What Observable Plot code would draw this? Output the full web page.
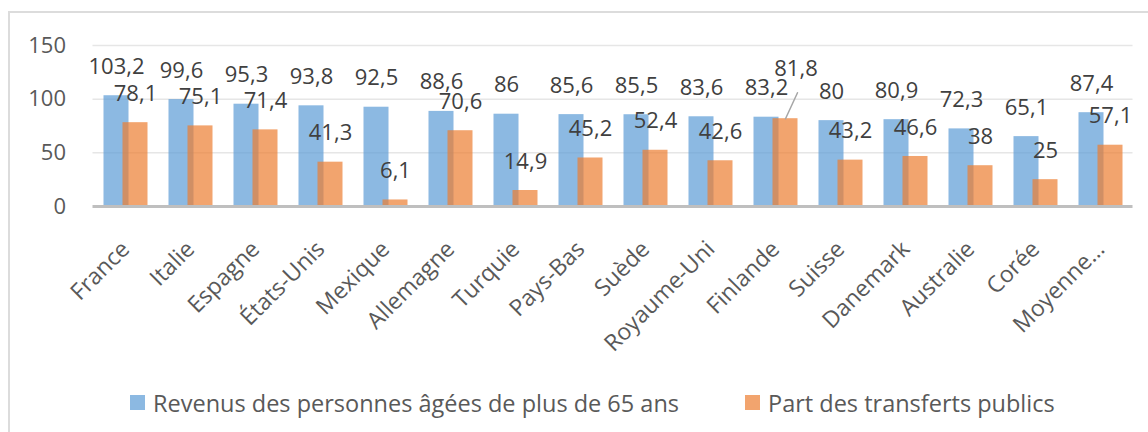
<!DOCTYPE html>
<html>
<head>
<meta charset="utf-8">
<script src="https://cdn.jsdelivr.net/npm/d3@7"></script>
<script src="https://cdn.jsdelivr.net/npm/@observablehq/plot@0.6"></script>
<style>
  html, body { margin: 0; padding: 0; background: #fff; }
  body { width: 1148px; height: 432px; overflow: hidden; position: relative; font-family: "Open Sans", sans-serif; }
  #frame { position: absolute; left: 8px; top: 11px; width: 1200px; height: 500px; border: 2px solid #DCDCDC; box-sizing: border-box; }
  #chart { position: absolute; left: 0; top: 0; }
  #legend { position: absolute; left: 0; top: 0; width: 1148px; }
  .item { position: absolute; top: 388px; font-size: 23.5px; color: #595959; white-space: nowrap; line-height: 30px; }
  .sw { position: absolute; width: 15px; height: 15px; top: 7px; left: -23px; }
</style>
</head>
<body>
<div id="frame"></div>
<div id="chart"></div>
<div id="legend"></div>
<script>
const categories = ["France", "Italie", "Espagne", "États-Unis", "Mexique", "Allemagne", "Turquie", "Pays-Bas", "Suède", "Royaume-Uni", "Finlande", "Suisse", "Danemark", "Australie", "Corée", "Moyenne…"];
const revenus = [103.2, 99.6, 95.3, 93.8, 92.5, 88.6, 86, 85.6, 85.5, 83.6, 83.2, 80, 80.9, 72.3, 65.1, 87.4];
const transferts = [78.1, 75.1, 71.4, 41.3, 6.1, 70.6, 14.9, 45.2, 52.4, 42.6, 81.8, 43.2, 46.6, 38, 25, 57.1];
const seriesNames = ["Revenus des personnes âgées de plus de 65 ans", "Part des transferts publics"];
const seriesColors = ["#5B9BD5", "#ED7D31"];
const yTicks = [0, 50, 100, 150];
const movedLabel = "Finlande";

const blueData = categories.map((c, i) => ({c, v: revenus[i]}));
const orangeData = categories.map((c, i) => ({c, v: transferts[i]}));
const fmt = v => String(v).replace(".", ",");

const leaderShape = {draw(context, l) { context.moveTo(0, 0); context.lineTo(0, -l); }};

function build(useCustom) {
  return Plot.plot({
    width: 1148,
    height: 370,
    marginLeft: 92.5,
    marginRight: 15.5,
    marginTop: 45,
    marginBottom: 164,
    style: {fontFamily: "'Open Sans', sans-serif", fontSize: "22px", color: "#595959", background: "transparent"},
    x: {type: "band", domain: categories, padding: 0, axis: null},
    y: {domain: [0, 150], ticks: yTicks, tickSize: 0, tickPadding: 27, label: null, tickFormat: d => String(d)},
    marks: [
      Plot.ruleY(yTicks.filter(t => t > 0), {stroke: "#E6E6E6", strokeWidth: 1.5}),
      Plot.barY(blueData, {x: "c", y: "v", fill: seriesColors[0], fillOpacity: 0.7, insetLeft: 10.5, insetRight: 29.5}),
      Plot.barY(orangeData, {x: "c", y: "v", fill: seriesColors[1], fillOpacity: 0.7, insetLeft: 29.5, insetRight: 10.5}),
      Plot.ruleY([0], {stroke: "#BFBFBF", strokeWidth: 3}),
      Plot.text(blueData, {x: "c", y: "v", text: d => fmt(d.v), dx: -9.5, dy: -29, fill: "#404040", fontSize: 22}),
      Plot.text(orangeData.filter(d => d.c !== movedLabel), {x: "c", y: "v", text: d => fmt(d.v), dx: 9.5, dy: -29, fill: "#404040", fontSize: 22}),
      Plot.text(orangeData.filter(d => d.c === movedLabel), {x: "c", y: "v", text: d => fmt(d.v), dx: 20, dy: -50, fill: "#404040", fontSize: 22}),
      Plot.vector(orangeData.filter(d => d.c === movedLabel), Object.assign({x: "c", y: "v", dx: 9.5, length: 28.6, rotate: 24.8, anchor: "start", stroke: "#A6A6A6", strokeWidth: 1.5}, useCustom ? {shape: leaderShape} : {})),
      Plot.text(categories, {x: d => d, frameAnchor: "bottom", text: d => d, rotate: -45, textAnchor: "end", lineAnchor: "bottom", dx: 5, dy: 44, fill: "#595959", fontSize: 23})
    ]
  });
}
let svg;
try { svg = build(true); } catch (e) { svg = build(false); }
document.getElementById("chart").appendChild(svg);

const legend = document.getElementById("legend");
const legendX = [153, 768];
seriesNames.forEach((name, i) => {
  const item = document.createElement("div");
  item.className = "item";
  item.style.left = legendX[i] + "px";
  const sw = document.createElement("span");
  sw.className = "sw";
  sw.style.background = seriesColors[i];
  sw.style.opacity = 0.7;
  item.appendChild(sw);
  item.appendChild(document.createTextNode(name));
  legend.appendChild(item);
});
</script>
</body>
</html>
